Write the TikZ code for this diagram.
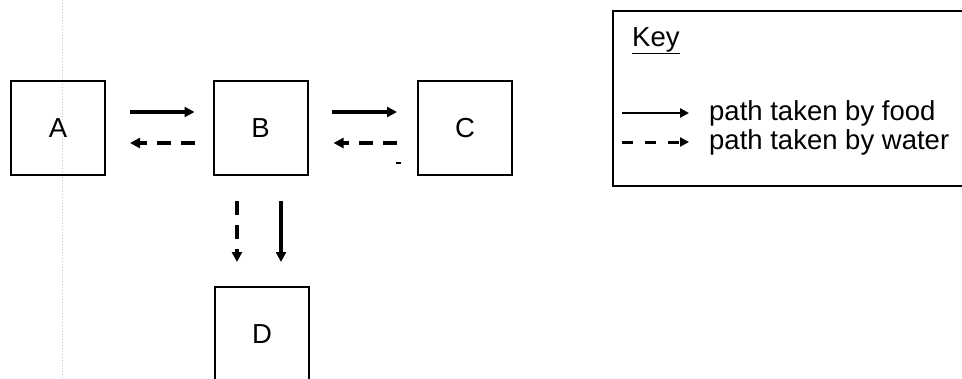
\documentclass[tikz,border=0pt]{standalone}
\usepackage{fontspec}
\setmainfont{Liberation Sans}
\usetikzlibrary{arrows.meta,calc}
\begin{document}
\begin{tikzpicture}[x=1pt,y=-1pt,
  box/.style={draw,line width=2pt,minimum width=94pt,minimum height=94pt,inner sep=0pt,font=\fontsize{27.5}{32}\selectfont},
  food/.style={line width=3.2pt,-{Triangle[length=10pt,width=10pt]}},
  water/.style={line width=3.2pt,dash pattern=on 14pt off 10pt,-{Triangle[length=10pt,width=10pt]}},
  keyfood/.style={line width=2.8pt,-{Triangle[length=9pt,width=9pt]}},
  keywater/.style={line width=3pt,dash pattern=on 11pt off 12pt,-{Triangle[length=9pt,width=9pt]}},
  keytext/.style={anchor=base west,inner sep=0pt,font=\fontsize{27.5}{32}\selectfont},
  keybox/.style={draw,line width=1.8pt,inner sep=0pt}]
\useasboundingbox (0,0) rectangle (962,378);
\fill[white] (0,0) rectangle (962,378);
% fold line of the scan
\draw[gray!45,dotted,line width=0.9pt] (62,0) -- (62,378);
% boxes
\node[box] (A) at (58,128) {A};
\node[box] (B) at (260.5,128) {B};
\node[box] (C) at (465,128) {C};
\node[box] (D) at (262,334) {D};
% connectors
\draw[food]  ($(A.east)+(24,-16)$) -- ($(B.west)+(-18,-16)$);
\draw[water] ($(B.west)+(-18,15)$) -- ($(A.east)+(24,15)$);
\draw[food]  ($(B.east)+(23,-16)$) -- ($(C.west)+(-20,-16)$);
\draw[water] ($(C.west)+(-20,15)$) -- ($(B.east)+(25,15)$);
\draw[water] ($(B.south)+(-23.5,25)$) -- ($(D.north)+(-25,-24)$);
\draw[food]  ($(B.south)+(20.5,25)$) -- ($(D.north)+(19,-24)$);
% stray mark
\draw[line width=2.2pt] (396,163) -- (401,163);
% key
\node[keybox,anchor=north west,minimum width=372pt,minimum height=175pt] (key) at (612,10) {};
\node[anchor=base west,inner sep=0pt,font=\fontsize{27.5}{32}\selectfont] (keylabel) at (632,46) {\underline{Key}};
\coordinate (fs) at (622,113);
\coordinate (fe) at (689,113);
\coordinate (ws) at (622,142);
\coordinate (we) at (689,142);
\node[keytext] (foodtext) at (709,120) {path taken by food};
\node[keytext] (watertext) at (709,149) {path taken by water};
\draw[keyfood] (fs) -- (fe);
\draw[keywater] (ws) -- (we);
\end{tikzpicture}
\end{document}
